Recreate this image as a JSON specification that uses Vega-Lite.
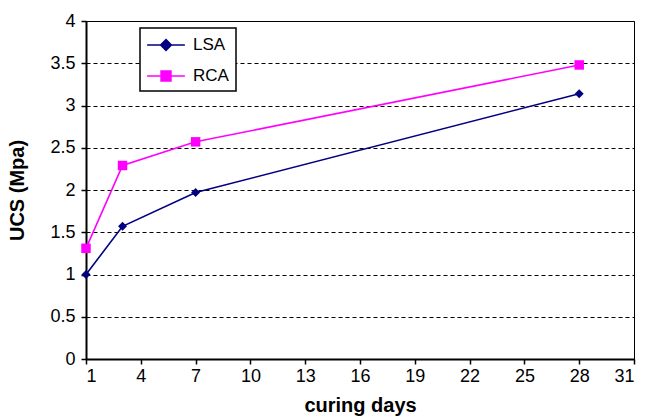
{
  "$schema": "https://vega.github.io/schema/vega-lite/v6.json",
  "width": 548,
  "height": 338,
  "autosize": {"type": "none"},
  "padding": {"left": 86, "top": 21, "right": 11, "bottom": 58},
  "background": "white",
  "config": {
    "font": "Liberation Sans",
    "view": {"stroke": "black", "strokeWidth": 1},
    "axis": {"labelFont": "Liberation Sans", "titleFont": "Liberation Sans", "labelColor": "black", "titleColor": "black", "domainColor": "black", "tickColor": "black", "domainWidth": 2, "tickWidth": 1.5, "tickSize": 5, "labelFontSize": 18, "titleFontSize": 20, "titleFontWeight": "bold"}
  },
  "data": {
    "values": [
      {"days": 1, "ucs": 1.0, "series": "LSA"},
      {"days": 3, "ucs": 1.57, "series": "LSA"},
      {"days": 7, "ucs": 1.97, "series": "LSA"},
      {"days": 28, "ucs": 3.14, "series": "LSA"},
      {"days": 1, "ucs": 1.31, "series": "RCA"},
      {"days": 3, "ucs": 2.29, "series": "RCA"},
      {"days": 7, "ucs": 2.57, "series": "RCA"},
      {"days": 28, "ucs": 3.48, "series": "RCA"}
    ]
  },
  "encoding": {
    "x": {"field": "days", "type": "quantitative", "title": "curing days",
      "scale": {"domain": [1, 31], "nice": false, "zero": false},
      "axis": {"values": [1, 4, 7, 10, 13, 16, 19, 22, 25, 28, 31], "grid": false, "labelPadding": 3, "titlePadding": 10}},
    "y": {"field": "ucs", "type": "quantitative", "title": "UCS (Mpa)",
      "scale": {"domain": [0, 4], "nice": false},
      "axis": {"values": [0, 0.5, 1, 1.5, 2, 2.5, 3, 3.5, 4], "format": "~g", "grid": true, "gridColor": "black", "gridDash": [4, 3], "gridWidth": 1, "gridOpacity": 1, "labelPadding": 6, "titlePadding": 22}},
    "color": {"field": "series", "type": "nominal",
      "scale": {"domain": ["LSA", "RCA"], "range": ["#000080", "#FF00FF"]},
      "legend": {"title": null, "orient": "none", "legendX": 54, "legendY": 7,
        "strokeColor": "black", "fillColor": "white", "padding": 7,
        "labelFontSize": 17, "labelFont": "Liberation Sans", "labelColor": "black",
        "symbolSize": 324, "labelOffset": 26, "rowPadding": 12,
        "encode": {
          "legend": {"update": {"strokeWidth": {"value": 1.5}}},
          "symbols": {"update": {
          "shape": {"signal": "datum.value === 'LSA' ? 'M-1.1,0H3.1M1,-0.6L1.6,0L1,0.6L0.4,0Z' : 'M-1.1,0H3.1M0.45,-0.55H1.55V0.55H0.45Z'"},
          "fill": {"signal": "datum.value === 'LSA' ? '#000080' : '#FF00FF'"},
          "stroke": {"signal": "datum.value === 'LSA' ? '#000080' : '#FF00FF'"},
          "strokeWidth": {"value": 1.5},
          "fillOpacity": {"value": 1},
          "opacity": {"value": 1}
        }}}}
    }
  },
  "layer": [
    {"mark": {"type": "line", "strokeWidth": 1.6}},
    {"transform": [{"filter": "datum.series === 'LSA'"}],
      "mark": {"type": "point", "shape": "diamond", "filled": true, "opacity": 1, "size": 80}},
    {"transform": [{"filter": "datum.series === 'RCA'"}],
      "mark": {"type": "point", "shape": "square", "filled": true, "opacity": 1, "size": 90}}
  ]
}
